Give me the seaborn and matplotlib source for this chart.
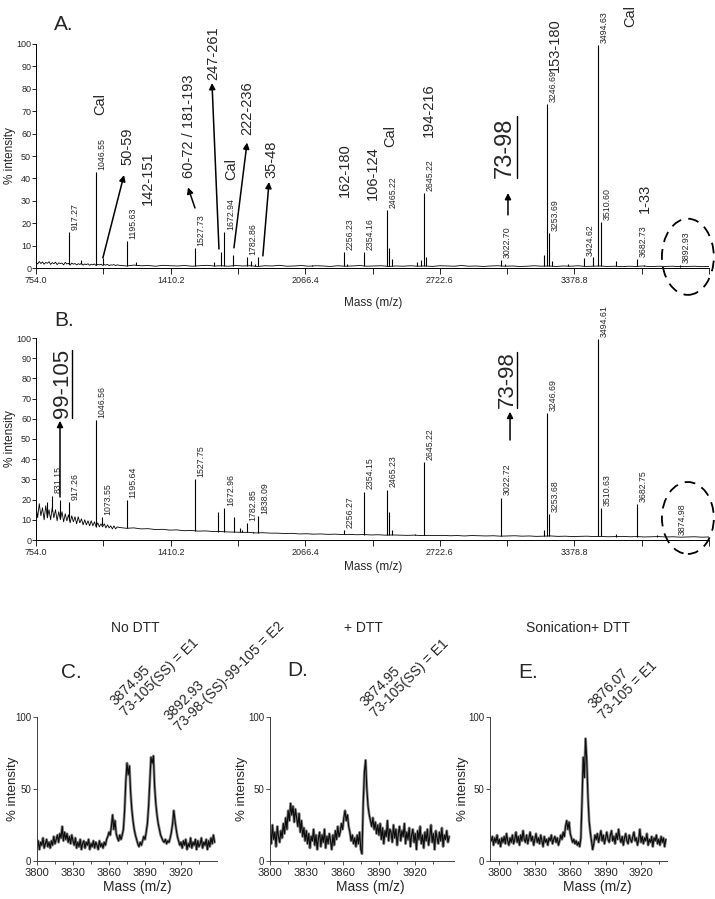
import numpy as np
import matplotlib.pyplot as plt
import seaborn as sns
from matplotlib.patches import Ellipse

# ---------------- panel A: survey spectrum ----------------
a_labels = ['917.27', '1046.55', '1195.63', '1527.73', '1672.94', '1782.86',
            '2256.23', '2354.16', '2465.22', '2645.22', '3022.70', '3246.69',
            '3253.69', '3424.62', '3494.63', '3510.60', '3682.73', '3892.93']
a_heights = [16, 43, 12, 9, 16, 5, 7, 7, 26, 33.5, 3.5, 73, 15.6, 4.5, 99.5, 20.5, 4, 1.5]
a_small_mz = [973, 1080, 1240, 1620, 1654, 1713, 1800, 1820, 1838, 2100, 2270, 2475,
              2490, 2610, 2630, 2655, 3040, 3230, 3270, 3350, 3470, 3580, 3720]
a_small_int = [3.5, 4.5, 2.5, 2.5, 7, 6, 3, 2, 5, 1.5, 2, 9,
               4, 2.5, 3.5, 5, 2, 6, 3, 2, 5, 3, 1.5]
a_base_fine = [2.6, 1.8, 2.9, 2.0, 2.7, 1.7, 2.5, 2.1, 2.8, 1.6, 2.4, 1.9, 2.6, 1.5, 2.3, 2.0,
               2.2, 1.4, 2.5, 1.8, 2.1, 1.3, 2.2, 1.7, 2.0, 1.4, 1.9, 1.6, 2.1, 1.3, 1.8, 1.5,
               1.9, 1.2, 1.7, 1.4, 1.8, 1.1, 1.6, 1.4, 1.7, 1.2, 1.5, 1.3, 1.6, 1.1, 1.4, 1.3,
               1.5, 1.1, 1.4]
a_base_coarse = [1.2, 0.9, 1.3, 1.0, 1.1, 0.8, 1.2, 1.0, 0.9, 1.1, 0.8, 1.0, 1.2, 0.9, 1.0, 0.8,
                 1.1, 0.9, 1.0, 0.7, 1.0, 0.9, 1.2, 0.8, 0.9, 1.1, 0.8, 1.0, 0.9, 0.7, 1.0, 0.8,
                 0.9, 1.1, 0.8, 0.9, 1.0, 0.7, 0.9, 0.8, 1.0, 0.8, 0.9, 0.7, 1.0, 0.9, 0.8, 1.1,
                 0.8, 0.9, 0.7, 0.9, 1.0, 0.8, 0.9, 0.7, 0.8, 1.0, 0.8, 0.9, 0.7, 0.9, 0.8, 1.0,
                 0.7, 0.8, 0.9, 0.7, 0.8, 0.6, 0.8, 0.7, 0.9, 0.6, 0.8, 0.7, 0.8, 0.6, 0.7, 0.8,
                 0.6, 0.7]

# ---------------- panel B: survey spectrum ----------------
b_labels = ['831.15', '917.26', '1046.56', '1073.55', '1195.64', '1527.75', '1672.96',
            '1782.85', '1838.09', '2256.27', '2354.15', '2465.23', '2645.22', '3022.72',
            '3246.69', '3253.68', '3494.61', '3510.63', '3682.75', '3874.98']
b_heights = [22, 19, 59.5, 11.4, 20, 30, 16, 8.4, 12, 5, 24, 25, 38.6, 21,
             63, 13, 99.5, 16, 18, 1.5]
b_small_mz = [810, 871, 1640, 1720, 1750, 1760, 1810, 2475, 2490, 2600, 3230, 3580, 3780]
b_small_int = [19, 20, 14, 11.4, 6, 5, 4, 14, 5, 3, 5, 3, 2.5]
b_base_fine = [17, 11, 18, 12, 16, 10, 17, 11, 15, 10, 16, 11, 15, 9.5, 14, 10, 14, 9, 13, 9.5,
               12.5, 8.5, 12, 9, 11.5, 8, 11.5, 8.5, 10.5, 7.5, 10, 7.5, 9.5, 7, 9.5, 7, 9, 6.5,
               8.5, 6.5, 8, 6.5, 8, 6, 7.5, 6, 7, 5.5, 7, 5.5, 6.5]
b_base_coarse = [6.2, 5.8, 6.0, 5.5, 5.6, 5.2, 5.3, 4.9, 5.0, 4.6, 4.7, 4.4, 4.5, 4.2, 4.2, 4.0,
                 3.9, 3.8, 3.8, 3.5, 3.6, 3.4, 3.4, 3.2, 3.3, 3.0, 3.1, 2.9, 3.0, 2.8, 2.9, 2.7,
                 2.8, 2.6, 2.7, 2.5, 2.6, 2.4, 2.5, 2.4, 2.3, 2.4, 2.2, 2.3, 2.2, 2.3, 2.1, 2.2,
                 2.0, 2.2, 2.1, 2.0, 2.1, 1.9, 2.0, 2.1, 1.9, 2.0, 1.8, 1.9, 2.0, 1.8, 1.9, 1.7,
                 1.8, 1.9, 1.7, 1.8, 1.6, 1.7, 1.8, 1.6, 1.7, 1.5, 1.6, 1.7, 1.5, 1.6, 1.4, 1.5,
                 1.6, 1.4, 1.5]

# ---------------- panels C-E: zoom on 3800-3950 ----------------
c_int = [10, 14, 8, 13, 11, 16, 9, 12, 15, 10,
         13, 9, 14, 11, 17, 12, 15, 18, 13, 19,
         16, 24, 14, 20, 15, 19, 13, 17, 12, 18,
         14, 11, 16, 9, 13, 10, 15, 8, 12, 14,
         9, 13, 11, 15, 8, 12, 10, 14, 9, 13,
         11, 8, 14, 10, 12, 9, 13, 11, 15, 17,
         20, 18, 24, 32, 22, 28, 19, 16, 14, 18,
         15, 18, 22, 35, 55, 68, 60, 66, 48, 36,
         28, 22, 18, 15, 12, 10, 13, 11, 14, 17,
         15, 20, 26, 38, 55, 72, 68, 73, 52, 40,
         32, 26, 22, 18, 16, 14, 13, 15, 12, 14,
         13, 16, 20, 26, 35, 28, 22, 17, 14, 11,
         13, 9, 14, 11, 15, 8, 12, 10, 16, 9,
         13, 11, 15, 8, 14, 10, 12, 16, 9, 13,
         11, 15, 8, 14, 10, 16, 12, 18, 13]
d_int = [22, 12, 25, 15, 20, 10, 24, 17, 13, 21,
         16, 26, 19, 30, 22, 35, 28, 40, 32, 38,
         27, 36, 30, 24, 33, 20, 28, 17, 23, 14,
         21, 12, 19, 9, 17, 14, 22, 11, 18, 8,
         16, 20, 10, 18, 13, 22, 9, 17, 12, 19,
         14, 8, 18, 11, 21, 15, 24, 17, 20, 26,
         22, 30, 35, 28, 32, 24, 20, 14, 18, 12,
         16, 10, 18, 12, 20, 8, 5, 40, 62, 70,
         50, 38, 32, 28, 24, 30, 22, 27, 19, 25,
         18, 26, 15, 23, 12, 21, 17, 28, 14, 22,
         20, 13, 25, 16, 22, 11, 19, 24, 14, 21,
         17, 26, 12, 20, 15, 23, 10, 18, 22, 13,
         19, 8, 21, 15, 24, 12, 18, 9, 20, 14,
         22, 11, 17, 25, 13, 19, 8, 21, 16, 12,
         20, 14, 23, 10, 18, 15, 21, 13, 17]
e_int = [14, 17, 11, 16, 13, 18, 12, 15, 10, 16,
         13, 17, 12, 19, 14, 11, 16, 13, 18, 12,
         15, 20, 13, 17, 11, 18, 14, 21, 15, 13,
         18, 12, 16, 20, 14, 17, 11, 15, 19, 13,
         16, 12, 18, 14, 10, 17, 13, 15, 11, 16,
         14, 18, 12, 15, 17, 13, 16, 11, 14, 18,
         15, 20, 17, 24, 28, 22, 27, 19, 16, 13,
         15, 12, 14, 11, 13, 10, 16, 42, 72, 58,
         85, 70, 45, 28, 20, 14, 8, 12, 18, 15,
         19, 13, 17, 21, 14, 18, 12, 16, 20, 15,
         13, 18, 21, 14, 17, 12, 19, 15, 22, 16,
         13, 17, 11, 16, 19, 14, 12, 18, 15, 13,
         17, 20, 14, 16, 11, 15, 22, 13, 17, 12,
         16, 14, 19, 11, 15, 13, 17, 10, 16, 14,
         18, 12, 15, 11, 17, 13, 16, 10, 15]

sns.set_style('ticks')
plt.rcParams['font.family'] = ['Liberation Sans', 'DejaVu Sans']

W, H = 715, 899
fig = plt.figure(figsize=(W / 100, H / 100), dpi=100)


def px_axes(l, t, r, b):
    return fig.add_axes([l / W, 1 - b / H, (r - l) / W, (b - t) / H])


def ftext(x, y, s, **kw):
    fig.text(x / W, 1 - y / H, s, **kw)


def survey(ax, base_fine, base_coarse, labels, heights, small_mz, small_int):
    mz = np.concatenate([np.linspace(754, 1150, len(base_fine)),
                         np.linspace(1160, 4035, len(base_coarse))])
    base = np.concatenate([base_fine, base_coarse])
    peak_mz = np.array([float(s) for s in labels] + small_mz)
    peak_h = np.array(heights + small_int)
    ax.vlines(peak_mz, np.interp(peak_mz, mz, base), peak_h, color='k', lw=0.8)
    sns.lineplot(x=mz, y=base, ax=ax, color='k', lw=0.6, estimator=None)
    for s, h in zip(labels, heights):
        ax.annotate(s, xy=(float(s), h), xytext=(4.3, 1.5), textcoords='offset points',
                    rotation=90, ha='center', va='bottom', fontsize=6.3)
    ax.set_xlim(754, 4035)
    ax.set_ylim(0, 100)
    ticks = [754.0, 1410.2, 2066.4, 2722.6, 3378.8]
    ax.set_xticks(ticks)
    ax.set_xticklabels([f'{t:.1f}' for t in ticks])
    ax.set_xticks([1082.1, 1738.3, 2394.5, 3050.7, 3706.9, 4035.0], minor=True)
    ax.set_yticks(range(0, 101, 10))
    ax.tick_params(axis='both', which='both', direction='out', width=0.6,
                   labelsize=6.5, color='k')
    ax.tick_params(axis='x', which='both', length=4, pad=1.5)
    ax.tick_params(axis='y', length=3, pad=0.5)
    sns.despine(ax=ax)
    for s in ['left', 'bottom']:
        ax.spines[s].set_linewidth(0.7)
        ax.spines[s].set_color('k')


arrow = dict(arrowstyle='-|>', color='k', lw=1.1, mutation_scale=9, shrinkA=0, shrinkB=0)

# ---------- A ----------
axA = px_axes(36, 44, 709, 268)
survey(axA, a_base_fine, a_base_coarse, a_labels, a_heights, a_small_mz, a_small_int)
a_tags = [('Cal', 1066, 68.3), ('50-59', 1202, 46), ('142-151', 1300, 28),
          ('60-72 / 181-193', 1500, 40), ('247-261', 1617, 84), ('Cal', 1705, 39.3),
          ('222-236', 1783, 59.4), ('35-48', 1904, 40), ('162-180', 2260, 31.7),
          ('106-124', 2397, 30.4), ('Cal', 2480, 54), ('194-216', 2670, 58.5),
          ('153-180', 3284, 87.5), ('Cal', 3650, 107.6), ('1-33', 3723, 24.6)]
for s, x, y in a_tags:
    axA.text(x, y, s, rotation=90, ha='center', va='bottom', fontsize=10.5)
for tail, head in [((1080, 4.5), (1183, 41.5)), ((1529, 26.8), (1495, 36)),
                   ((1646, 8.5), (1612, 82.6)), ((1719, 9), (1783, 56)),
                   ((1860, 5.4), (1890, 38.4))]:
    axA.annotate('', xy=head, xytext=tail, arrowprops=arrow)
axA.text(3040, 40, '73-98', rotation=90, ha='center', va='bottom', fontsize=17)
axA.plot([3099, 3099], [40, 68], color='k', lw=1.0, clip_on=False)
axA.annotate('', xy=(3055, 33.5), xytext=(3055, 23.7), arrowprops=arrow)
axA.add_patch(Ellipse((3932, 5), 253, 34, fill=False, ec='k', lw=1.3,
                      ls=(0, (6, 4)), clip_on=False))
ftext(64, 25, 'A.', fontsize=15, ha='center', va='center')
ftext(373, 303, 'Mass (m/z)', fontsize=8.5, ha='center', va='center')
ftext(10, 156, '% intensity', fontsize=8.5, rotation=90, ha='center', va='center')

# ---------- B ----------
axB = px_axes(36, 338, 709, 540)
survey(axB, b_base_fine, b_base_coarse, b_labels, b_heights, b_small_mz, b_small_int)
axB.text(881, 60.4, '99-105', rotation=90, ha='center', va='bottom', fontsize=16)
axB.plot([929.5, 929.5], [60.4, 94], color='k', lw=1.0, clip_on=False)
axB.annotate('', xy=(871, 59), xytext=(871, 21.3), arrowprops=arrow)
axB.text(3050, 65.3, '73-98', rotation=90, ha='center', va='bottom', fontsize=16)
axB.plot([3099, 3099], [65.3, 93], color='k', lw=1.0, clip_on=False)
axB.annotate('', xy=(3065, 63.5), xytext=(3065, 49.5), arrowprops=arrow)
axB.add_patch(Ellipse((3932, 10.9), 253, 35.6, fill=False, ec='k', lw=1.3,
                      ls=(0, (6, 4)), clip_on=False))
ftext(64, 320, 'B.', fontsize=15, ha='center', va='center')
ftext(373, 567, 'Mass (m/z)', fontsize=8.5, ha='center', va='center')
ftext(10, 439, '% intensity', fontsize=8.5, rotation=90, ha='center', va='center')


# ---------- C, D, E ----------
def zoom_panel(ax, x0, x1, vals):
    grid = np.linspace(x0, x0 + len(vals) - 1, len(vals))
    sns.lineplot(x=grid, y=vals, ax=ax, color='0.55', lw=2.0, estimator=None)
    sns.lineplot(x=grid, y=vals, ax=ax, color='0.05', lw=0.85, estimator=None)
    ax.set_xlim(x0 if x0 <= 3800 else 3800, x1)
    ax.set_ylim(0, 100)
    ax.set_xticks([3800, 3830, 3860, 3890, 3920])
    ax.set_xticks(np.arange(3815, 3950, 30), minor=True)
    ax.set_yticks([0, 50, 100])
    ax.tick_params(axis='both', which='both', direction='out', width=0.6, color='0.2')
    ax.tick_params(axis='x', which='major', length=3, labelsize=8, pad=2)
    ax.tick_params(axis='x', which='minor', length=2)
    ax.tick_params(axis='y', length=3, labelsize=7, pad=1)
    sns.despine(ax=ax)
    for s in ['left', 'bottom']:
        ax.spines[s].set_linewidth(0.7)
        ax.spines[s].set_color('0.25')


axC = px_axes(37, 717, 217, 861)
zoom_panel(axC, 3800, 3950, c_int)
axD = px_axes(270, 717, 454, 861)
zoom_panel(axD, 3800, 3952, d_int)
axE = px_axes(490, 717, 667, 861)
zoom_panel(axE, 3793, 3942, e_int)
axE.set_xlim(3792, 3942)

for x, title in [(135, 'No DTT'), (363, '+ DTT'), (578, 'Sonication+ DTT')]:
    ftext(x, 628, title, fontsize=10, ha='center', va='center')
for x, y, s in [(71, 672, 'C.'), (298, 670, 'D.'), (528, 672, 'E.')]:
    ftext(x, y, s, fontsize=15, ha='center', va='center')
for x in [137, 370, 597]:
    ftext(x, 887, 'Mass (m/z)', fontsize=10, ha='center', va='center')
for x in [13, 242, 463]:
    ftext(x, 789, '% intensity', fontsize=9.5, rotation=90, ha='center', va='center')

rot = dict(rotation=45, rotation_mode='anchor', ha='left', va='bottom',
           fontsize=10, linespacing=1.1)
ftext(128, 719, '3874.95\n73-105(SS) = E1', **rot)
ftext(182, 734, '3892.93\n73-98-(SS)-99-105 = E2', **rot)
ftext(378, 720, '3874.95\n73-105(SS) = E1', **rot)
ftext(606, 722, '3876.07\n73-105 = E1', **rot)

fig.savefig('out.png', dpi=100)
